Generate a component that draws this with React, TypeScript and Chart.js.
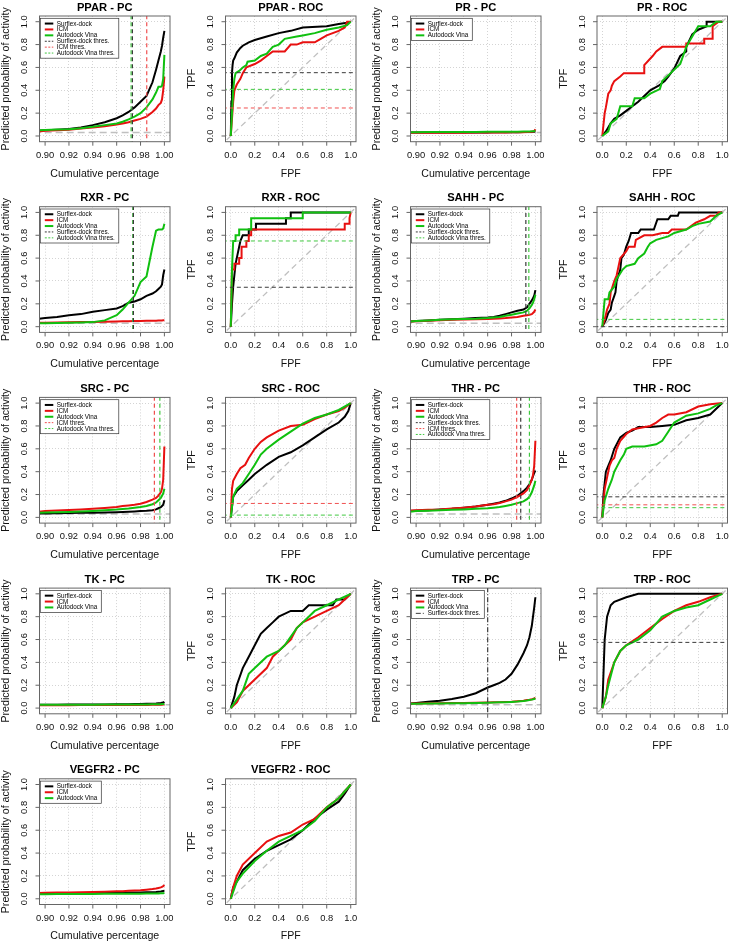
import React, { useEffect, useRef } from 'react';
import { Chart, registerables } from 'chart.js';
Chart.register(...registerables);

const FONT = '"Liberation Sans", Arial, Helvetica, sans-serif';

// ---------------- shared axes ----------------
const PC_X_TICKS = [0.9, 0.92, 0.94, 0.96, 0.98, 1.0];
const ROC_X_TICKS = [0, 0.2, 0.4, 0.6, 0.8, 1.0];
const Y_TICKS = [0, 0.2, 0.4, 0.6, 0.8, 1.0];

// cumulative percentage sample points for PC curves
const PC_X = [0.895, 0.9, 0.91, 0.92, 0.93, 0.94, 0.95, 0.96, 0.965, 0.97, 0.975, 0.98, 0.985, 0.99, 0.993, 0.995, 0.997, 0.998, 0.999, 1.0];

// ---------------- PPAR ----------------
const PPAR_PC_S = [0.045, 0.05, 0.055, 0.062, 0.075, 0.095, 0.12, 0.155, 0.18, 0.21, 0.25, 0.3, 0.35, 0.47, 0.58, 0.66, 0.74, 0.79, 0.86, 0.92];
const PPAR_PC_I = [0.04, 0.045, 0.05, 0.055, 0.065, 0.075, 0.085, 0.1, 0.11, 0.12, 0.135, 0.15, 0.17, 0.21, 0.24, 0.27, 0.29, 0.32, 0.4, 0.52];
const PPAR_PC_V = [0.05, 0.052, 0.056, 0.06, 0.068, 0.08, 0.095, 0.11, 0.125, 0.145, 0.17, 0.2, 0.25, 0.32, 0.38, 0.43, 0.43, 0.44, 0.5, 0.71];
const PPAR_PC_THR = { S: 0.9732, I: 0.9852, V: 0.9721 };
const PPAR_ROC_S = [[0, 0], [0.005, 0.3], [0.01, 0.55], [0.015, 0.62], [0.02, 0.66], [0.03, 0.68], [0.05, 0.73], [0.08, 0.77], [0.1, 0.79], [0.15, 0.82], [0.2, 0.84], [0.3, 0.87], [0.4, 0.9], [0.5, 0.92], [0.6, 0.95], [0.8, 0.96], [0.9, 0.98], [0.97, 0.99], [1, 1]];
const PPAR_ROC_I = [[0, 0], [0.01, 0.15], [0.02, 0.3], [0.03, 0.4], [0.05, 0.45], [0.08, 0.5], [0.1, 0.55], [0.13, 0.6], [0.2, 0.63], [0.25, 0.66], [0.3, 0.7], [0.35, 0.74], [0.45, 0.74], [0.5, 0.8], [0.55, 0.8], [0.6, 0.82], [0.7, 0.82], [0.75, 0.85], [0.8, 0.88], [0.9, 0.92], [0.95, 0.95], [0.97, 1], [1, 1]];
const PPAR_ROC_V = [[0, 0], [0.01, 0.2], [0.02, 0.4], [0.03, 0.5], [0.04, 0.55], [0.07, 0.57], [0.1, 0.6], [0.13, 0.62], [0.14, 0.65], [0.2, 0.66], [0.25, 0.7], [0.3, 0.72], [0.35, 0.78], [0.4, 0.8], [0.45, 0.85], [0.55, 0.87], [0.6, 0.88], [0.7, 0.9], [0.8, 0.93], [0.9, 0.95], [0.97, 0.97], [1, 1]];
const PPAR_ROC_THR = { S: 0.554, I: 0.245, V: 0.408 };

// ---------------- PR ----------------
const PR_PC_S = [0.03, 0.03, 0.03, 0.03, 0.03, 0.031, 0.031, 0.031, 0.032, 0.032, 0.032, 0.033, 0.033, 0.034, 0.034, 0.035, 0.036, 0.037, 0.038, 0.04];
const PR_PC_I = [0.028, 0.028, 0.028, 0.029, 0.029, 0.029, 0.03, 0.03, 0.03, 0.031, 0.031, 0.032, 0.032, 0.033, 0.034, 0.035, 0.036, 0.038, 0.042, 0.06];
const PR_PC_V = [0.033, 0.033, 0.034, 0.034, 0.034, 0.035, 0.035, 0.036, 0.036, 0.037, 0.037, 0.038, 0.038, 0.039, 0.04, 0.04, 0.041, 0.042, 0.043, 0.045];
const PR_ROC_S = [[0, 0], [0.03, 0.04], [0.07, 0.11], [0.1, 0.15], [0.15, 0.18], [0.2, 0.22], [0.25, 0.26], [0.3, 0.3], [0.35, 0.35], [0.4, 0.4], [0.47, 0.44], [0.52, 0.48], [0.55, 0.52], [0.6, 0.59], [0.65, 0.7], [0.7, 0.74], [0.7, 0.78], [0.75, 0.89], [0.8, 0.93], [0.87, 0.96], [0.87, 1.0], [1, 1]];
const PR_ROC_I = [[0, 0], [0.01, 0.1], [0.02, 0.2], [0.03, 0.25], [0.05, 0.37], [0.07, 0.4], [0.08, 0.44], [0.1, 0.48], [0.15, 0.52], [0.18, 0.55], [0.35, 0.55], [0.35, 0.62], [0.42, 0.7], [0.45, 0.74], [0.5, 0.78], [0.7, 0.78], [0.7, 0.81], [0.85, 0.81], [0.85, 0.85], [0.92, 0.85], [0.92, 0.96], [0.97, 1.0], [1, 1]];
const PR_ROC_V = [[0, 0], [0.05, 0.04], [0.07, 0.11], [0.12, 0.15], [0.15, 0.26], [0.25, 0.26], [0.27, 0.33], [0.35, 0.33], [0.4, 0.37], [0.48, 0.41], [0.5, 0.48], [0.57, 0.55], [0.65, 0.63], [0.7, 0.78], [0.75, 0.87], [0.8, 0.96], [0.9, 0.96], [0.95, 1.0], [1, 1]];

// ---------------- RXR ----------------
const RXR_PC_S = [0.07, 0.075, 0.085, 0.1, 0.11, 0.13, 0.145, 0.16, 0.18, 0.21, 0.22, 0.24, 0.27, 0.29, 0.31, 0.33, 0.35, 0.37, 0.45, 0.5];
const RXR_PC_I = [0.035, 0.035, 0.037, 0.039, 0.04, 0.042, 0.044, 0.046, 0.047, 0.048, 0.049, 0.05, 0.051, 0.052, 0.053, 0.054, 0.055, 0.055, 0.056, 0.057];
const RXR_PC_V = [0.03, 0.03, 0.032, 0.035, 0.037, 0.04, 0.055, 0.1, 0.15, 0.21, 0.27, 0.39, 0.44, 0.7, 0.84, 0.85, 0.85, 0.85, 0.86, 0.9];
const RXR_PC_THR = { S: 0.974, V: 0.9735 };
const RXR_ROC_S = [[0, 0], [0.01, 0.2], [0.02, 0.35], [0.03, 0.45], [0.04, 0.55], [0.06, 0.65], [0.07, 0.7], [0.08, 0.75], [0.1, 0.8], [0.15, 0.8], [0.15, 0.85], [0.21, 0.85], [0.21, 0.9], [0.46, 0.9], [0.46, 0.95], [0.5, 0.95], [0.5, 1.0], [1, 1]];
const RXR_ROC_I = [[0, 0], [0.01, 0.5], [0.03, 0.5], [0.03, 0.55], [0.07, 0.55], [0.07, 0.6], [0.09, 0.6], [0.09, 0.7], [0.13, 0.7], [0.13, 0.75], [0.15, 0.75], [0.15, 0.8], [0.17, 0.8], [0.17, 0.85], [0.95, 0.85], [0.95, 0.9], [0.99, 0.9], [0.99, 0.95], [1, 1]];
const RXR_ROC_V = [[0, 0], [0.01, 0.5], [0.02, 0.75], [0.04, 0.75], [0.04, 0.8], [0.07, 0.8], [0.07, 0.85], [0.17, 0.85], [0.17, 0.95], [0.6, 0.95], [0.6, 1.0], [1, 1]];
const RXR_ROC_THR = { S: 0.345, V: 0.75 };

// ---------------- SAHH ----------------
const SAHH_PC_S = [0.045, 0.05, 0.055, 0.06, 0.065, 0.07, 0.075, 0.08, 0.085, 0.095, 0.11, 0.125, 0.14, 0.15, 0.17, 0.2, 0.23, 0.25, 0.27, 0.32];
const SAHH_PC_I = [0.045, 0.048, 0.052, 0.056, 0.06, 0.063, 0.066, 0.068, 0.07, 0.072, 0.075, 0.08, 0.085, 0.095, 0.1, 0.105, 0.11, 0.12, 0.13, 0.15];
const SAHH_PC_V = [0.045, 0.05, 0.055, 0.06, 0.065, 0.068, 0.07, 0.075, 0.08, 0.085, 0.095, 0.105, 0.115, 0.125, 0.14, 0.16, 0.19, 0.21, 0.24, 0.28];
const SAHH_PC_THR = { S: 0.992, V: 0.9945 };
const SAHH_ROC_S = [[0, 0], [0.03, 0.06], [0.05, 0.12], [0.07, 0.15], [0.08, 0.21], [0.1, 0.27], [0.11, 0.3], [0.12, 0.4], [0.15, 0.5], [0.16, 0.6], [0.18, 0.63], [0.2, 0.7], [0.22, 0.75], [0.24, 0.82], [0.3, 0.82], [0.32, 0.85], [0.43, 0.85], [0.46, 0.94], [0.55, 0.94], [0.57, 0.97], [0.63, 0.97], [0.64, 1.0], [1, 1]];
const SAHH_ROC_I = [[0, 0], [0.02, 0.06], [0.04, 0.15], [0.06, 0.2], [0.07, 0.3], [0.1, 0.4], [0.12, 0.45], [0.15, 0.6], [0.2, 0.66], [0.22, 0.7], [0.27, 0.7], [0.28, 0.76], [0.35, 0.8], [0.42, 0.8], [0.5, 0.82], [0.55, 0.82], [0.58, 0.85], [0.7, 0.85], [0.78, 0.91], [0.85, 0.94], [0.9, 0.97], [0.95, 0.97], [0.97, 1.0], [1, 1]];
const SAHH_ROC_V = [[0, 0], [0.02, 0.24], [0.05, 0.24], [0.06, 0.3], [0.1, 0.35], [0.12, 0.42], [0.14, 0.45], [0.17, 0.5], [0.2, 0.53], [0.27, 0.55], [0.3, 0.6], [0.35, 0.64], [0.38, 0.7], [0.4, 0.73], [0.45, 0.76], [0.55, 0.79], [0.6, 0.82], [0.7, 0.85], [0.75, 0.88], [0.8, 0.9], [0.9, 0.92], [0.95, 0.97], [1, 1]];
const SAHH_ROC_THR = { S: 0.0, V: 0.064 };

// ---------------- SRC ----------------
const SRC_PC_S = [0.035, 0.035, 0.037, 0.038, 0.04, 0.041, 0.043, 0.045, 0.047, 0.049, 0.052, 0.055, 0.058, 0.063, 0.07, 0.08, 0.09, 0.1, 0.11, 0.15];
const SRC_PC_I = [0.05, 0.055, 0.06, 0.065, 0.07, 0.075, 0.082, 0.09, 0.1, 0.105, 0.11, 0.12, 0.135, 0.155, 0.17, 0.19, 0.22, 0.25, 0.33, 0.62];
const SRC_PC_V = [0.04, 0.042, 0.045, 0.048, 0.052, 0.056, 0.062, 0.068, 0.073, 0.078, 0.085, 0.09, 0.1, 0.115, 0.13, 0.15, 0.17, 0.19, 0.21, 0.25];
const SRC_PC_THR = { I: 0.9916, V: 0.9962 };
const SRC_ROC_S = [[0, 0], [0.02, 0.18], [0.05, 0.23], [0.1, 0.28], [0.15, 0.33], [0.2, 0.38], [0.3, 0.46], [0.4, 0.53], [0.5, 0.57], [0.6, 0.63], [0.7, 0.7], [0.8, 0.77], [0.9, 0.83], [0.95, 0.88], [0.98, 0.93], [1, 1]];
const SRC_ROC_I = [[0, 0], [0.01, 0.25], [0.02, 0.32], [0.05, 0.38], [0.08, 0.43], [0.12, 0.46], [0.15, 0.52], [0.2, 0.6], [0.25, 0.66], [0.3, 0.7], [0.4, 0.76], [0.5, 0.8], [0.6, 0.81], [0.7, 0.86], [0.8, 0.9], [0.9, 0.93], [0.95, 0.96], [1, 1]];
const SRC_ROC_V = [[0, 0], [0.02, 0.18], [0.05, 0.25], [0.1, 0.3], [0.15, 0.38], [0.2, 0.46], [0.25, 0.55], [0.3, 0.6], [0.4, 0.68], [0.5, 0.75], [0.6, 0.82], [0.7, 0.87], [0.8, 0.9], [0.9, 0.94], [1, 1]];
const SRC_ROC_THR = { I: 0.122, V: 0.02 };

// ---------------- THR ----------------
const THR_PC_S = [0.055, 0.058, 0.062, 0.068, 0.075, 0.085, 0.095, 0.11, 0.12, 0.13, 0.145, 0.165, 0.19, 0.23, 0.26, 0.29, 0.33, 0.36, 0.39, 0.41];
const THR_PC_I = [0.06, 0.062, 0.066, 0.07, 0.077, 0.085, 0.095, 0.11, 0.115, 0.125, 0.14, 0.155, 0.18, 0.21, 0.24, 0.28, 0.33, 0.37, 0.45, 0.67];
const THR_PC_V = [0.05, 0.055, 0.058, 0.062, 0.066, 0.07, 0.075, 0.08, 0.085, 0.09, 0.1, 0.11, 0.125, 0.14, 0.16, 0.18, 0.22, 0.25, 0.28, 0.32];
const THR_PC_THR = { S: 0.9877, I: 0.9843, V: 0.995 };
const THR_ROC_S = [[0, 0], [0.01, 0.2], [0.02, 0.3], [0.03, 0.4], [0.05, 0.45], [0.07, 0.5], [0.1, 0.6], [0.13, 0.66], [0.15, 0.7], [0.2, 0.74], [0.25, 0.76], [0.3, 0.79], [0.4, 0.79], [0.5, 0.8], [0.6, 0.81], [0.7, 0.85], [0.8, 0.87], [0.9, 0.9], [0.95, 0.95], [1, 1]];
const THR_ROC_I = [[0, 0], [0.02, 0.25], [0.04, 0.35], [0.06, 0.45], [0.08, 0.5], [0.1, 0.52], [0.12, 0.6], [0.15, 0.67], [0.2, 0.73], [0.25, 0.77], [0.3, 0.78], [0.4, 0.8], [0.45, 0.83], [0.5, 0.87], [0.55, 0.9], [0.6, 0.9], [0.7, 0.92], [0.8, 0.97], [0.9, 0.99], [1, 1]];
const THR_ROC_V = [[0, 0], [0.02, 0.15], [0.05, 0.25], [0.08, 0.33], [0.1, 0.4], [0.12, 0.44], [0.15, 0.5], [0.18, 0.55], [0.2, 0.6], [0.25, 0.62], [0.35, 0.62], [0.45, 0.64], [0.5, 0.67], [0.55, 0.75], [0.6, 0.83], [0.7, 0.89], [0.8, 0.91], [0.9, 0.95], [0.95, 0.98], [1, 1]];
const THR_ROC_THR = { S: 0.18, I: 0.11, V: 0.085 };

// ---------------- TK ----------------
const TK_PC_S = [0.03, 0.03, 0.03, 0.031, 0.031, 0.032, 0.032, 0.033, 0.034, 0.034, 0.035, 0.036, 0.037, 0.038, 0.04, 0.042, 0.044, 0.046, 0.048, 0.055];
const TK_PC_I = [0.025, 0.025, 0.025, 0.025, 0.026, 0.026, 0.026, 0.027, 0.027, 0.027, 0.028, 0.028, 0.028, 0.029, 0.029, 0.03, 0.03, 0.03, 0.031, 0.032];
const TK_PC_V = [0.03, 0.03, 0.03, 0.03, 0.03, 0.03, 0.031, 0.031, 0.031, 0.031, 0.032, 0.032, 0.032, 0.033, 0.033, 0.034, 0.034, 0.035, 0.035, 0.036];
const TK_ROC_S = [[0, 0], [0.03, 0.1], [0.05, 0.2], [0.1, 0.35], [0.15, 0.45], [0.2, 0.55], [0.25, 0.65], [0.3, 0.7], [0.35, 0.75], [0.4, 0.8], [0.5, 0.85], [0.6, 0.85], [0.65, 0.9], [0.85, 0.9], [0.88, 0.95], [0.95, 0.95], [1, 1]];
const TK_ROC_I = [[0, 0], [0.05, 0.05], [0.1, 0.15], [0.2, 0.25], [0.3, 0.35], [0.35, 0.45], [0.45, 0.55], [0.5, 0.6], [0.55, 0.7], [0.6, 0.75], [0.7, 0.8], [0.8, 0.85], [0.9, 0.9], [0.95, 0.95], [1, 1]];
const TK_ROC_V = [[0, 0], [0.1, 0.15], [0.15, 0.3], [0.2, 0.35], [0.3, 0.45], [0.4, 0.5], [0.45, 0.55], [0.55, 0.7], [0.6, 0.75], [0.65, 0.8], [0.7, 0.85], [0.8, 0.9], [0.9, 0.95], [1, 1]];

// ---------------- TRP ----------------
const TRP_PC_S = [0.04, 0.045, 0.055, 0.065, 0.08, 0.1, 0.13, 0.18, 0.2, 0.22, 0.25, 0.3, 0.38, 0.48, 0.55, 0.62, 0.72, 0.8, 0.88, 0.97];
const TRP_PC_I = [0.04, 0.041, 0.042, 0.043, 0.044, 0.045, 0.047, 0.049, 0.05, 0.052, 0.054, 0.056, 0.06, 0.065, 0.07, 0.073, 0.077, 0.08, 0.085, 0.09];
const TRP_PC_V = [0.038, 0.039, 0.04, 0.041, 0.042, 0.043, 0.045, 0.047, 0.048, 0.05, 0.052, 0.054, 0.057, 0.062, 0.066, 0.07, 0.074, 0.077, 0.08, 0.085];
const TRP_PC_THR = { S: 0.96 };
const TRP_ROC_S = [[0, 0], [0.01, 0.3], [0.02, 0.6], [0.04, 0.8], [0.07, 0.9], [0.1, 0.93], [0.2, 0.97], [0.3, 1.0], [1, 1]];
const TRP_ROC_I = [[0, 0], [0.03, 0.1], [0.05, 0.25], [0.1, 0.4], [0.15, 0.5], [0.2, 0.55], [0.3, 0.62], [0.4, 0.7], [0.5, 0.78], [0.6, 0.85], [0.7, 0.9], [0.8, 0.93], [0.9, 0.97], [1, 1]];
const TRP_ROC_V = [[0, 0], [0.03, 0.1], [0.05, 0.2], [0.1, 0.4], [0.15, 0.5], [0.2, 0.55], [0.3, 0.6], [0.4, 0.68], [0.5, 0.8], [0.6, 0.85], [0.7, 0.88], [0.8, 0.9], [0.9, 0.95], [1, 1]];
const TRP_ROC_THR = { S: 0.575 };

// ---------------- VEGFR2 ----------------
const VEGFR2_PC_S = [0.045, 0.046, 0.047, 0.048, 0.049, 0.05, 0.051, 0.052, 0.053, 0.054, 0.055, 0.056, 0.057, 0.058, 0.06, 0.062, 0.064, 0.066, 0.068, 0.07];
const VEGFR2_PC_I = [0.05, 0.052, 0.054, 0.056, 0.058, 0.06, 0.062, 0.065, 0.067, 0.07, 0.072, 0.075, 0.08, 0.085, 0.09, 0.095, 0.1, 0.105, 0.11, 0.12];
const VEGFR2_PC_V = [0.04, 0.04, 0.041, 0.041, 0.042, 0.042, 0.043, 0.043, 0.044, 0.044, 0.045, 0.045, 0.046, 0.046, 0.047, 0.047, 0.048, 0.048, 0.049, 0.05];
const VEGFR2_ROC_S = [[0, 0], [0.02, 0.1], [0.05, 0.15], [0.1, 0.25], [0.2, 0.35], [0.3, 0.42], [0.4, 0.47], [0.5, 0.52], [0.6, 0.6], [0.7, 0.7], [0.8, 0.78], [0.9, 0.85], [0.95, 0.92], [1, 1]];
const VEGFR2_ROC_I = [[0, 0], [0.02, 0.1], [0.05, 0.2], [0.1, 0.3], [0.2, 0.4], [0.3, 0.5], [0.4, 0.55], [0.5, 0.58], [0.6, 0.65], [0.7, 0.7], [0.8, 0.8], [0.9, 0.88], [1, 1]];
const VEGFR2_ROC_V = [[0, 0], [0.05, 0.15], [0.1, 0.22], [0.2, 0.33], [0.3, 0.42], [0.4, 0.5], [0.5, 0.55], [0.6, 0.6], [0.7, 0.68], [0.8, 0.8], [0.9, 0.88], [1, 1]];

// baseline (prevalence) level on PC plots
const PC_BASELINE = 0.03;

// ---------------- styling ----------------
const COLORS: Record<string, string> = { S: '#000000', I: '#e81010', V: '#10c010' };
const THR_COLORS: Record<string, string> = { S: '#3a3a3a', I: '#f05050', V: '#40c840' };
const NAMES: Record<string, string> = { S: 'Surflex-dock', I: 'ICM', V: 'Autodock Vina' };

type Pt = { x: number; y: number };
type Spec = {
  title: string;
  kind: 'pc' | 'roc';
  S: Pt[]; I: Pt[]; V: Pt[];
  thr?: Record<string, number>;
  thrDash?: Record<string, number[]>;
  legend?: string[];
  baseline?: number;
};

const pc = (ys: number[]): Pt[] => PC_X.map((x, i) => ({ x, y: ys[i] }));
const roc = (pts: number[][]): Pt[] => pts.map(([x, y]) => ({ x, y }));

const L3 = ['S', 'I', 'V'];
const PANELS: Spec[] = [
  { title: 'PPAR - PC', kind: 'pc', S: pc(PPAR_PC_S), I: pc(PPAR_PC_I), V: pc(PPAR_PC_V), thr: PPAR_PC_THR, legend: ['S', 'I', 'V', 'tS', 'tI', 'tV'], baseline: PC_BASELINE },
  { title: 'PPAR - ROC', kind: 'roc', S: roc(PPAR_ROC_S), I: roc(PPAR_ROC_I), V: roc(PPAR_ROC_V), thr: PPAR_ROC_THR },
  { title: 'PR - PC', kind: 'pc', S: pc(PR_PC_S), I: pc(PR_PC_I), V: pc(PR_PC_V), legend: L3, baseline: PC_BASELINE },
  { title: 'PR - ROC', kind: 'roc', S: roc(PR_ROC_S), I: roc(PR_ROC_I), V: roc(PR_ROC_V) },
  { title: 'RXR - PC', kind: 'pc', S: pc(RXR_PC_S), I: pc(RXR_PC_I), V: pc(RXR_PC_V), thr: RXR_PC_THR, legend: ['S', 'I', 'V', 'tS', 'tV'], baseline: PC_BASELINE },
  { title: 'RXR - ROC', kind: 'roc', S: roc(RXR_ROC_S), I: roc(RXR_ROC_I), V: roc(RXR_ROC_V), thr: RXR_ROC_THR },
  { title: 'SAHH - PC', kind: 'pc', S: pc(SAHH_PC_S), I: pc(SAHH_PC_I), V: pc(SAHH_PC_V), thr: SAHH_PC_THR, legend: ['S', 'I', 'V', 'tS', 'tV'], baseline: PC_BASELINE },
  { title: 'SAHH - ROC', kind: 'roc', S: roc(SAHH_ROC_S), I: roc(SAHH_ROC_I), V: roc(SAHH_ROC_V), thr: SAHH_ROC_THR },
  { title: 'SRC - PC', kind: 'pc', S: pc(SRC_PC_S), I: pc(SRC_PC_I), V: pc(SRC_PC_V), thr: SRC_PC_THR, legend: ['S', 'I', 'V', 'tI', 'tV'], baseline: PC_BASELINE },
  { title: 'SRC - ROC', kind: 'roc', S: roc(SRC_ROC_S), I: roc(SRC_ROC_I), V: roc(SRC_ROC_V), thr: SRC_ROC_THR },
  { title: 'THR - PC', kind: 'pc', S: pc(THR_PC_S), I: pc(THR_PC_I), V: pc(THR_PC_V), thr: THR_PC_THR, legend: ['S', 'I', 'V', 'tS', 'tI', 'tV'], baseline: PC_BASELINE },
  { title: 'THR - ROC', kind: 'roc', S: roc(THR_ROC_S), I: roc(THR_ROC_I), V: roc(THR_ROC_V), thr: THR_ROC_THR },
  { title: 'TK - PC', kind: 'pc', S: pc(TK_PC_S), I: pc(TK_PC_I), V: pc(TK_PC_V), legend: L3, baseline: PC_BASELINE },
  { title: 'TK - ROC', kind: 'roc', S: roc(TK_ROC_S), I: roc(TK_ROC_I), V: roc(TK_ROC_V) },
  { title: 'TRP - PC', kind: 'pc', S: pc(TRP_PC_S), I: pc(TRP_PC_I), V: pc(TRP_PC_V), thr: TRP_PC_THR, thrDash: { S: [5, 2, 1, 2] }, legend: ['S', 'I', 'V', 'tS'], baseline: PC_BASELINE },
  { title: 'TRP - ROC', kind: 'roc', S: roc(TRP_ROC_S), I: roc(TRP_ROC_I), V: roc(TRP_ROC_V), thr: TRP_ROC_THR },
  { title: 'VEGFR2 - PC', kind: 'pc', S: pc(VEGFR2_PC_S), I: pc(VEGFR2_PC_I), V: pc(VEGFR2_PC_V), legend: L3 },
  { title: 'VEGFR2 - ROC', kind: 'roc', S: roc(VEGFR2_ROC_S), I: roc(VEGFR2_ROC_I), V: roc(VEGFR2_ROC_V) },
];

// ---------------- layout ----------------
const BOX_LEFTS = [39.5, 225.5, 410.5, 597];
const BOX_TOP0 = 16;
const ROW_STEP = 190.7;
const BOX_W = 130.5;
const BOX_H = 125.7;
const CW = 186;
const CH = 192;
const Y_RANGE = [-0.05, 1.05];
const PC_RANGE = [0.8953, 1.0047];
const ROC_RANGE = [-0.044, 1.044];
const THR_DASH = [4, 3];

function makeFramePlugin(spec: Spec) {
  return {
    id: 'rframe',
    afterDatasetsDraw(chart: any) {
      if (!spec.legend) return;
      const ctx = chart.ctx as CanvasRenderingContext2D;
      const a = chart.chartArea;
      ctx.save();
      ctx.font = `6.3px ${FONT}`;
      const labels = spec.legend.map((k) => (k.startsWith('t') ? NAMES[k.slice(1)] + ' thres.' : NAMES[k]));
      const tw = Math.max(...labels.map((l) => ctx.measureText(l).width));
      const lh = 5.9;
      const bx = a.left + 0.8;
      const by = a.top + 2.3;
      const bw = tw + 20.5;
      const bh = spec.legend.length * lh + 4.5;
      ctx.fillStyle = '#ffffff';
      ctx.fillRect(bx, by, bw, bh);
      ctx.strokeStyle = '#333';
      ctx.lineWidth = 0.7;
      ctx.strokeRect(bx, by, bw, bh);
      spec.legend.forEach((k, i) => {
        const cy = by + 2.3 + lh * (i + 0.5);
        const isT = k.startsWith('t');
        const key = isT ? k.slice(1) : k;
        ctx.beginPath();
        ctx.strokeStyle = isT ? THR_COLORS[key] : COLORS[key];
        ctx.lineWidth = isT ? 1 : 2;
        ctx.setLineDash(isT ? (spec.thrDash && spec.thrDash[key]) || [2, 1.5] : []);
        ctx.moveTo(bx + 4.5, cy);
        ctx.lineTo(bx + 13, cy);
        ctx.stroke();
        ctx.setLineDash([]);
        ctx.fillStyle = '#000';
        ctx.textAlign = 'left';
        ctx.textBaseline = 'middle';
        ctx.fillText(labels[i], bx + 16.5, cy + 0.3);
      });
      ctx.restore();
    },
    afterDraw(chart: any) {
      const ctx = chart.ctx as CanvasRenderingContext2D;
      const a = chart.chartArea;
      const xs = chart.scales.x;
      const ys = chart.scales.y;
      const xt = spec.kind === 'pc' ? PC_X_TICKS : ROC_X_TICKS;
      ctx.save();
      // box
      ctx.strokeStyle = '#666';
      ctx.lineWidth = 1;
      ctx.strokeRect(a.left, a.top, a.right - a.left, a.bottom - a.top);
      // ticks
      ctx.beginPath();
      xt.forEach((v) => {
        const px = xs.getPixelForValue(v);
        ctx.moveTo(px, a.bottom);
        ctx.lineTo(px, a.bottom + 4);
      });
      Y_TICKS.forEach((v) => {
        const py = ys.getPixelForValue(v);
        ctx.moveTo(a.left, py);
        ctx.lineTo(a.left - 4, py);
      });
      ctx.stroke();
      // tick labels
      ctx.fillStyle = '#111';
      ctx.font = `9.4px ${FONT}`;
      ctx.textAlign = 'center';
      ctx.textBaseline = 'middle';
      xt.forEach((v) => {
        ctx.fillText(v.toFixed(spec.kind === 'pc' ? 2 : 1), xs.getPixelForValue(v), a.bottom + 13.5);
      });
      Y_TICKS.forEach((v) => {
        ctx.save();
        ctx.translate(a.left - 15, ys.getPixelForValue(v));
        ctx.rotate(-Math.PI / 2);
        ctx.fillText(v.toFixed(1), 0, 0);
        ctx.restore();
      });
      // axis titles
      ctx.font = `10.6px ${FONT}`;
      const cx = (a.left + a.right) / 2;
      const cy = (a.top + a.bottom) / 2;
      ctx.fillText(spec.kind === 'pc' ? 'Cumulative percentage' : 'FPF', cx, a.bottom + 32);
      ctx.save();
      ctx.translate(a.left - 33, cy);
      ctx.rotate(-Math.PI / 2);
      ctx.fillText(spec.kind === 'pc' ? 'Predicted probability of activity' : 'TPF', 0, 0);
      ctx.restore();
      // main title
      ctx.font = `bold 11.2px ${FONT}`;
      ctx.fillStyle = '#000';
      ctx.fillText(spec.title, cx, a.top - 8.5);
      ctx.restore();
    },
  };
}

function buildDatasets(spec: Spec) {
  const ds: any[] = [];
  const big = [-1, 2];
  // reference line
  if (spec.kind === 'roc') {
    ds.push({ data: big.map((v) => ({ x: v, y: v })), borderColor: '#c0c0c0', borderWidth: 1.3, borderDash: [6, 4], order: 10, clip: 0 });
  } else if (spec.baseline !== undefined) {
    ds.push({ data: big.map((v) => ({ x: v, y: spec.baseline })), borderColor: '#c0c0c0', borderWidth: 1.5, borderDash: [7, 4], order: 10, clip: 0 });
  }
  // series: Surflex drawn first, Vina last (on top)
  (['S', 'I', 'V'] as const).forEach((k, i) => {
    ds.push({ data: spec[k], borderColor: COLORS[k], borderWidth: 2, order: 5 - i });
  });
  // thresholds
  if (spec.thr) {
    Object.entries(spec.thr).forEach(([k, v]) => {
      const dash = (spec.thrDash && spec.thrDash[k]) || THR_DASH;
      const data = spec.kind === 'pc' ? big.map((yy) => ({ x: v, y: yy })) : big.map((xx) => ({ x: xx, y: v }));
      ds.push({ data, borderColor: THR_COLORS[k], borderWidth: spec.kind === 'pc' ? 1.2 : 1, borderDash: dash, order: 0, clip: 0 });
    });
  }
  return ds.map((d) => ({ pointRadius: 0, fill: false, tension: 0, ...d }));
}

function Panel({ spec, row, col }: { spec: Spec; row: number; col: number }) {
  const ref = useRef<HTMLCanvasElement>(null);
  const boxLeft = BOX_LEFTS[col];
  const boxTop = BOX_TOP0 + row * ROW_STEP;
  const left = Math.floor(boxLeft - 40);
  const top = Math.floor(boxTop - 17);
  const padL = boxLeft - left;
  const padT = boxTop - top;
  useEffect(() => {
    const xr = spec.kind === 'pc' ? PC_RANGE : ROC_RANGE;
    const xt = spec.kind === 'pc' ? PC_X_TICKS : ROC_X_TICKS;
    const gridCommon = { color: '#d4d4d4', lineWidth: 1, drawTicks: false };
    const chart = new Chart(ref.current as HTMLCanvasElement, {
      type: 'line',
      data: { datasets: buildDatasets(spec) },
      options: {
        responsive: false,
        animation: false,
        devicePixelRatio: 1,
        events: [],
        layout: { padding: { left: padL, top: padT, right: CW - padL - BOX_W, bottom: CH - padT - BOX_H } },
        plugins: { legend: { display: false }, tooltip: { enabled: false }, title: { display: false } },
        scales: {
          x: {
            type: 'linear', min: xr[0], max: xr[1],
            afterBuildTicks: (s: any) => { s.ticks = xt.map((value) => ({ value })); },
            ticks: { display: false },
            grid: gridCommon,
            border: { display: false, dash: [1, 2] },
          },
          y: {
            type: 'linear', min: Y_RANGE[0], max: Y_RANGE[1],
            afterBuildTicks: (s: any) => { s.ticks = Y_TICKS.map((value) => ({ value })); },
            ticks: { display: false },
            grid: gridCommon,
            border: { display: false, dash: [1, 2] },
          },
        },
      } as any,
      plugins: [makeFramePlugin(spec)],
    });
    return () => chart.destroy();
  }, []);
  return (
    <canvas
      ref={ref}
      width={CW}
      height={CH}
      style={{ position: 'absolute', left, top, width: CW, height: CH }}
    />
  );
}

export default function App() {
  return (
    <div style={{ position: 'absolute', left: 0, top: 0, width: 730, height: 947, overflow: 'hidden', background: '#fff' }}>
      {PANELS.map((spec, i) => (
        <Panel key={spec.title} spec={spec} row={Math.floor(i / 4)} col={i % 4} />
      ))}
    </div>
  );
}
